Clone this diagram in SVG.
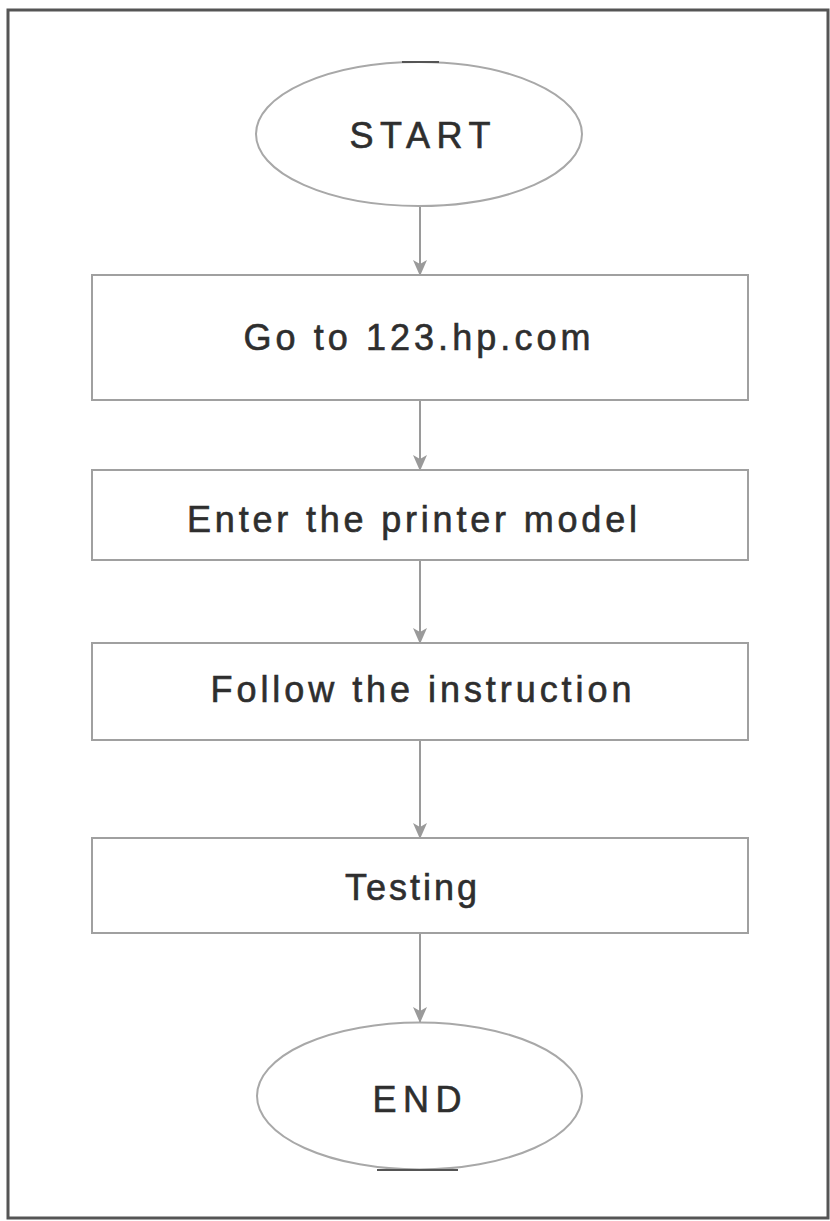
<svg xmlns="http://www.w3.org/2000/svg" width="830" height="1221" viewBox="0 0 830 1221">
  <defs>
    <style>
      .frame { fill: #ffffff; stroke: #555555; stroke-width: 3; }
      .term { fill: #ffffff; stroke: #a8a8a8; stroke-width: 2; }
      .step { fill: #ffffff; stroke: #a0a0a0; stroke-width: 2; }
      .edge { stroke: #9a9a9a; stroke-width: 2; fill: none; }
      .label { font-family: "Liberation Sans", Arial, sans-serif; font-size: 36px; fill: #2e2e2e; stroke: #2e2e2e; stroke-width: 0.6; text-anchor: middle; }
      .tick { stroke: #555555; stroke-width: 2; }
    </style>
    <marker id="arrow" viewBox="0 0 16 14" refX="15" refY="7" markerWidth="16" markerHeight="14" markerUnits="userSpaceOnUse" orient="auto">
      <path d="M0,0 L16,7 L0,14 L4,7 Z" fill="#9a9a9a"/>
    </marker>
  </defs>

  <!-- page frame -->
  <rect class="frame" x="8" y="10" width="820" height="1208"/>

  <!-- connectors -->
  <g id="connectors">
    <line class="edge" x1="420" y1="206" x2="420" y2="275" marker-end="url(#arrow)"/>
    <line class="edge" x1="420" y1="400" x2="420" y2="470" marker-end="url(#arrow)"/>
    <line class="edge" x1="420" y1="560" x2="420" y2="643" marker-end="url(#arrow)"/>
    <line class="edge" x1="420" y1="740" x2="420" y2="838" marker-end="url(#arrow)"/>
    <line class="edge" x1="420" y1="933" x2="420" y2="1022" marker-end="url(#arrow)"/>
  </g>

  <g id="start">
    <ellipse class="term" cx="419" cy="134" rx="163" ry="72"/>
    <line class="tick" x1="402" y1="62" x2="439" y2="62"/>
    <text class="label" x="420" y="148" textLength="141" lengthAdjust="spacing">START</text>
  </g>

  <g id="go-to-site">
    <rect class="step" x="92" y="275" width="656" height="125"/>
    <text class="label" x="417" y="350" textLength="347" lengthAdjust="spacing">Go to 123.hp.com</text>
  </g>

  <g id="enter-model">
    <rect class="step" x="92" y="470" width="656" height="90"/>
    <text class="label" x="412" y="532" textLength="450" lengthAdjust="spacing">Enter the printer model</text>
  </g>

  <g id="follow-instruction">
    <rect class="step" x="92" y="643" width="656" height="97"/>
    <text class="label" x="421" y="702" textLength="421" lengthAdjust="spacing">Follow the instruction</text>
  </g>

  <g id="testing">
    <rect class="step" x="92" y="838" width="656" height="95"/>
    <text class="label" x="411" y="900" textLength="132" lengthAdjust="spacing">Testing</text>
  </g>

  <g id="end">
    <ellipse class="term" cx="419.5" cy="1096" rx="162.5" ry="73.5"/>
    <line class="tick" x1="377" y1="1170" x2="458" y2="1170"/>
    <text class="label" x="417" y="1112" textLength="89" lengthAdjust="spacing">END</text>
  </g>
</svg>
